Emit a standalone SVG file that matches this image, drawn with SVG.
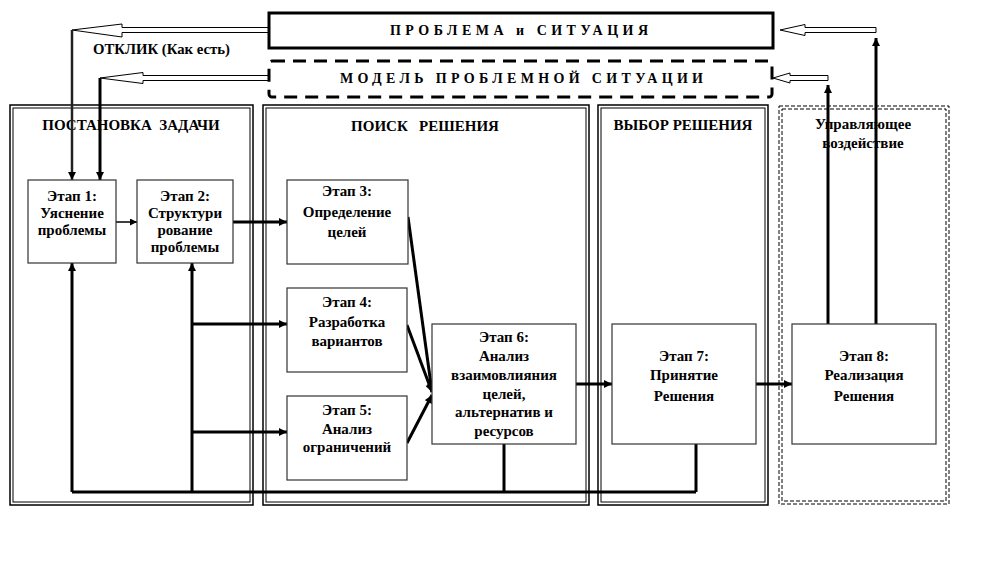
<svg xmlns="http://www.w3.org/2000/svg" width="996" height="564" viewBox="0 0 996 564">
<defs>
<marker id="ah" viewBox="0 0 10 10" refX="10" refY="5" markerWidth="10" markerHeight="8" markerUnits="userSpaceOnUse" orient="auto"><path d="M0,0 L10,5 L0,10 z" fill="#000"/></marker>
<marker id="ahs" viewBox="0 0 10 10" refX="10" refY="5" markerWidth="8" markerHeight="7" markerUnits="userSpaceOnUse" orient="auto"><path d="M0,0 L10,5 L0,10 z" fill="#000"/></marker>
</defs>
<style>
text{font-family:"Liberation Serif","Times New Roman",serif;font-weight:bold;fill:#000}
.t{font-size:15px;text-anchor:middle}
.ttl{font-size:15px;text-anchor:middle;white-space:pre}
.box{fill:#fff;stroke:#333;stroke-width:1.2}
.po{fill:none;stroke:#000;stroke-width:1.5}
.pi{fill:none;stroke:#000;stroke-width:1}
.pd{fill:none;stroke:#000;stroke-width:1;stroke-dasharray:4,2}
.c{fill:none;stroke:#000;stroke-width:3}
.ca{fill:none;stroke:#000;stroke-width:3;marker-end:url(#ah)}
.hol{fill:#fff;stroke:#000;stroke-width:1}
</style>
<rect width="996" height="564" fill="#fff"/>

<g id="problem">
<rect x="269" y="13" width="504" height="35" fill="#fff" stroke="#000" stroke-width="3"/>
<text x="390" y="35" style="font-size:14px" textLength="258" lengthAdjust="spacing">ПРОБЛЕМА и СИТУАЦИЯ</text>
</g>
<g id="model">
<rect x="269" y="61" width="503" height="36" rx="3" fill="#fff" stroke="#000" stroke-width="3" stroke-dasharray="13,8"/>
<text x="340" y="83" style="font-size:14px" textLength="363" lengthAdjust="spacing">МОДЕЛЬ ПРОБЛЕМНОЙ СИТУАЦИИ</text>
</g>
<text x="93" y="54" style="font-size:14px" textLength="137" lengthAdjust="spacingAndGlyphs">ОТКЛИК (Как есть)</text>

<g id="panel1">
<rect class="po" x="10" y="105" width="243" height="400"/>
<rect class="pi" x="13" y="108" width="237" height="394"/>
<text class="ttl" x="131" y="130" xml:space="preserve">ПОСТАНОВКА  ЗАДАЧИ</text>
</g>
<g id="panel2">
<rect class="po" x="263" y="105" width="326" height="400"/>
<rect class="pi" x="266" y="108" width="320" height="394"/>
<text class="ttl" x="425" y="131" xml:space="preserve">ПОИСК   РЕШЕНИЯ</text>
</g>
<g id="panel3">
<rect class="po" x="598" y="105" width="170" height="400"/>
<rect class="pi" x="601" y="108" width="164" height="394"/>
<text class="ttl" x="683" y="130">ВЫБОР РЕШЕНИЯ</text>
</g>
<g id="panel4">
<rect class="pd" x="779" y="106" width="170" height="398"/>
<rect class="pd" x="782" y="109" width="164" height="392"/>
<text class="ttl" x="863" y="129">Управляющее</text>
<text class="ttl" x="863" y="148">воздействие</text>
</g>

<g id="connectors">
<polygon class="hol" points="72,30 122,24 122,27.5 268,27.5 268,32.5 122,32.5 122,37"/>
<polygon class="hol" points="100,78 143,72.5 143,75.5 268,75.5 268,80.5 143,80.5 143,83.5"/>
<polygon class="hol" points="780,30 805,24.5 805,27.5 876,27.5 876,32.5 805,32.5 805,35.5"/>
<polygon class="hol" points="773,78 790,73 790,75.5 828,75.5 828,80.5 790,80.5 790,83"/>
<line x1="72" y1="30" x2="72" y2="180" stroke="#222" stroke-width="2.5" marker-end="url(#ah)"/>
<line class="ca" x1="100" y1="78" x2="100" y2="180"/>
<line x1="116" y1="222" x2="137" y2="222" stroke="#000" stroke-width="1.5" marker-end="url(#ahs)"/>
<line class="ca" x1="233" y1="222" x2="287" y2="222"/>
<line class="ca" x1="72" y1="492" x2="72" y2="263"/>
<line class="ca" x1="192" y1="492" x2="192" y2="263"/>
<polyline class="c" points="72,492 696,492"/>
<line class="c" x1="504" y1="444" x2="504" y2="492"/>
<line class="c" x1="696" y1="444" x2="696" y2="492"/>
<line class="ca" x1="192" y1="324" x2="287" y2="324"/>
<line class="ca" x1="192" y1="432" x2="287" y2="432"/>
<line class="ca" x1="408" y1="217" x2="432" y2="392"/>
<line class="ca" x1="407" y1="325" x2="432" y2="392"/>
<line class="ca" x1="407" y1="443" x2="432" y2="395"/>
<line class="ca" x1="576" y1="384" x2="612" y2="384"/>
<line class="ca" x1="756" y1="384" x2="792" y2="384"/>
<line class="ca" x1="828" y1="324" x2="828" y2="85"/>
<line class="ca" x1="876" y1="324" x2="876" y2="38"/>
</g>

<g id="stage1">
<rect class="box" x="28" y="180" width="88" height="83"/>
<text class="t" x="72" y="201">Этап 1:</text>
<text class="t" x="72" y="218">Уяснение</text>
<text class="t" x="72" y="235">проблемы</text>
</g>
<g id="stage2">
<rect class="box" x="137" y="180" width="96" height="83"/>
<text class="t" x="185" y="201">Этап 2:</text>
<text class="t" x="185" y="218">Структури</text>
<text class="t" x="185" y="235">рование</text>
<text class="t" x="185" y="252">проблемы</text>
</g>
<g id="stage3">
<rect class="box" x="287" y="180" width="121" height="84"/>
<text class="t" x="347" y="196">Этап 3:</text>
<text class="t" x="347" y="217">Определение</text>
<text class="t" x="347" y="237">целей</text>
</g>
<g id="stage4">
<rect class="box" x="287" y="288" width="120" height="84"/>
<text class="t" x="347" y="307">Этап 4:</text>
<text class="t" x="347" y="327">Разработка</text>
<text class="t" x="347" y="346">вариантов</text>
</g>
<g id="stage5">
<rect class="box" x="287" y="396" width="120" height="84"/>
<text class="t" x="347" y="415">Этап 5:</text>
<text class="t" x="347" y="434">Анализ</text>
<text class="t" x="347" y="452">ограничений</text>
</g>
<g id="stage6">
<rect class="box" x="432" y="324" width="144" height="120"/>
<text class="t" x="504" y="342">Этап 6:</text>
<text class="t" x="504" y="361">Анализ</text>
<text class="t" x="504" y="380">взаимовлияния</text>
<text class="t" x="504" y="399">целей,</text>
<text class="t" x="504" y="417">альтернатив и</text>
<text class="t" x="504" y="436">ресурсов</text>
</g>
<g id="stage7">
<rect class="box" x="612" y="324" width="144" height="120"/>
<text class="t" x="684" y="361">Этап 7:</text>
<text class="t" x="684" y="380">Принятие</text>
<text class="t" x="684" y="401">Решения</text>
</g>
<g id="stage8">
<rect class="box" x="792" y="324" width="144" height="120"/>
<text class="t" x="864" y="361">Этап 8:</text>
<text class="t" x="864" y="380">Реализация</text>
<text class="t" x="864" y="401">Решения</text>
</g>
</svg>
